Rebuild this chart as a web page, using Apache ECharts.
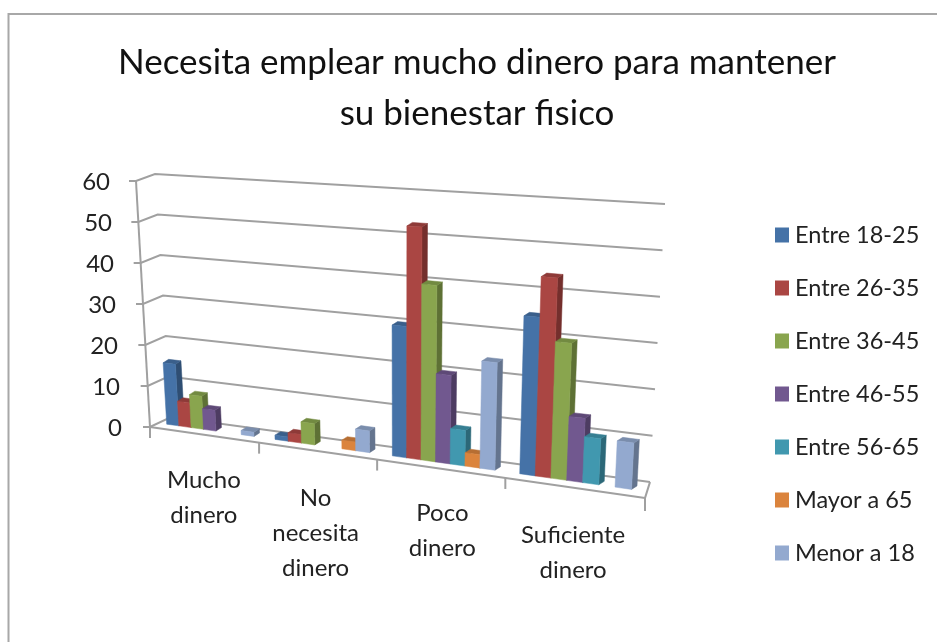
<!DOCTYPE html>
<html><head><meta charset="utf-8">
<style>html,body{margin:0;padding:0;background:#fff}#c{width:937px;height:642px}</style>
<script src="https://cdn.jsdelivr.net/npm/echarts@6/dist/echarts.min.js"></script>
</head><body><div id="c"></div>
<script>
const categories = ['Mucho\ndinero', 'No\nnecesita\ndinero', 'Poco\ndinero', 'Suficiente\ndinero'];
const yTicks = [0, 10, 20, 30, 40, 50, 60];
const seriesNames = ['Entre 18-25', 'Entre 26-35', 'Entre 36-45', 'Entre 46-55', 'Entre 56-65', 'Mayor a 65', 'Menor a 18'];
const entre18 = [15, 1, 30, 35];
const entre26 = [6, 2, 53, 44];
const entre36 = [8, 5, 40, 30];
const entre46 = [5, 0, 20, 14];
const entre56 = [0, 0, 8, 10];
const mayor65 = [0, 2, 3, 0];
const menor18 = [1, 5, 24, 10];
const seriesValues = [entre18, entre26, entre36, entre46, entre56, mayor65, menor18];
const colors = ['#4572A7', '#AA4643', '#89A54E', '#71588F', '#4198AF', '#DB843D', '#93A9CF'];
const sideColors = ['#2F4E73', '#742F2D', '#5E7135', '#4D3C62', '#2C6878', '#96592A', '#64748E'];
const topColors = ['#3A5F8B', '#8E3A38', '#728A41', '#5E4977', '#367F92', '#B66E33', '#7A8DAC'];

const FONT = 'Lato';
const GRID = {left: 150, right: 292, top: 181, bottom: 215};
// Oblique projection: pixel offsets from the flat grid at its 8 corners, [s][t][d]
const OFFSETS = {
  s0t0d0: [0, 0], s0t1d0: [-14, 0], s1t0d0: [0, 71], s1t1d0: [15, 36],
  s0t0d1: [21, -10], s0t1d1: [5, -7], s1t0d1: [5, 55], s1t1d1: [20, 23]
};
const PERSPECTIVE = 0.848, BAR_DEPTH = 0.4, BAR_GAP = 0.08, BAR_WIDTH = 0.116, SIDE_X = 5.5, SIDE_Y = -3.5;

function project(params, api, cat, frac, value, d) {
  const sys = params.coordSys;
  const p = api.coord([cat, value]);
  const band = api.size([1, 0])[0];
  const px = p[0] + (frac - 0.5) * band;
  const raw = (px - sys.x) / sys.width;
  const s = PERSPECTIVE * raw / (1 + (PERSPECTIVE - 1) * raw);
  const t = (sys.y + sys.height - p[1]) / sys.height;
  const off = i => {
    const lerp = (a, b, f) => a + (b - a) * f;
    const front = lerp(lerp(OFFSETS.s0t0d0[i], OFFSETS.s0t1d0[i], t), lerp(OFFSETS.s1t0d0[i], OFFSETS.s1t1d0[i], t), s);
    const back = lerp(lerp(OFFSETS.s0t0d1[i], OFFSETS.s0t1d1[i], t), lerp(OFFSETS.s1t0d1[i], OFFSETS.s1t1d1[i], t), s);
    return lerp(front, back, d);
  };
  return [sys.x + s * sys.width + off(0), p[1] + off(1)];
}

function barRender(idx) {
  return function (params, api) {
    const cat = api.value(0), v = api.value(1);
    if (!v) return null;
    const f0 = BAR_GAP + idx * BAR_WIDTH, f1 = f0 + BAR_WIDTH;
    const a = project(params, api, cat, f0, 0, BAR_DEPTH);
    const b = project(params, api, cat, f1, 0, BAR_DEPTH);
    const c = project(params, api, cat, f1, v, BAR_DEPTH);
    const e = project(params, api, cat, f0, v, BAR_DEPTH);
    const sh = q => [q[0] + SIDE_X, q[1] + SIDE_Y];
    const poly = (pts, fill) => ({type: 'polygon', shape: {points: pts}, style: {fill: fill, stroke: fill, lineWidth: 0.5}});
    return {type: 'group', children: [
      poly([b, c, sh(c), sh(b)], sideColors[idx]),
      poly([e, c, sh(c), sh(e)], topColors[idx]),
      poly([a, b, c, e], colors[idx])
    ]};
  };
}

function frameRender(params, api) {
  const line = (pts, w) => ({type: 'polyline', shape: {points: pts}, style: {fill: null, stroke: '#a0a0a0', lineWidth: w || 2}});
  const last = categories.length - 1;
  const children = [];
  yTicks.forEach(v => {
    const fl = project(params, api, 0, 0, v, 0);
    const bl = project(params, api, 0, 0, v, 1);
    const br = project(params, api, last, 1, v, 1);
    children.push(line([[fl[0] - 7, fl[1]], fl, bl, br]));
  });
  const top = project(params, api, 0, 0, 60, 0), bottom = project(params, api, 0, 0, 0, 0);
  children.push(line([top, bottom]));
  const fr = project(params, api, last, 1, 0, 0), brr = project(params, api, last, 1, 0, 1);
  children.push(line([bottom, fr]), line([fr, brr]));
  categories.forEach((_, i) => {
    const p = project(params, api, i, 0, 0, 0);
    children.push(line([p, [p[0], p[1] + 11]]));
  });
  children.push(line([fr, [fr[0], fr[1] + 13]]));
  return {type: 'group', children};
}

const LABEL_SPACER = [15.5, 33.5, 48.5, 70.5];
const LABEL_SHIFT = [8, 20, 17, 10];
const rich = {};
categories.forEach((_, i) => {
  rich['s' + i] = {fontSize: 1, lineHeight: LABEL_SPACER[i]};
  rich['n' + i] = {fontFamily: FONT, fontSize: 24, color: '#222', lineHeight: 35, padding: [0, LABEL_SHIFT[i] * 2, 0, 0]};
});
const yRich = {};
yTicks.forEach(v => { yRich['v' + v] = {fontFamily: FONT, fontSize: 24, color: '#222', padding: [3, 12 * v / 60, 0, 0]}; });

const series = [{
  type: 'custom', name: 'frame', silent: true, z: 1, renderItem: frameRender, data: [[0, 0]], encode: {x: 0, y: 1}
}];
seriesNames.forEach((name, i) => {
  series.push({
    type: 'custom', name, z: 2 + i, renderItem: barRender(i), itemStyle: {color: colors[i]},
    encode: {x: 0, y: 1}, data: seriesValues[i].map((v, c) => [c, v])
  });
});

const chart = echarts.init(document.getElementById('c'), null, {renderer: 'canvas'});
chart.setOption({
  animation: false,
  backgroundColor: '#fff',
  graphic: [{type: 'rect', z: 0, shape: {x: 8.5, y: 14, width: 1000, height: 1000}, style: {fill: null, stroke: '#a8a8a8', lineWidth: 2}}],
  title: {
    text: 'Necesita emplear mucho dinero para mantener\nsu bienestar fisico',
    left: 472, top: 32, textAlign: 'center',
    textStyle: {fontFamily: FONT, fontWeight: 'normal', fontSize: 35, lineHeight: 51, color: '#111'}
  },
  legend: {
    orient: 'vertical', left: 770, top: 218, icon: 'rect', itemWidth: 14, itemHeight: 15, itemGap: 29,
    selectedMode: false, data: seriesNames,
    textStyle: {fontFamily: FONT, fontSize: 23.5, color: '#222', padding: [0, 0, 0, 1]}
  },
  grid: GRID,
  xAxis: {
    type: 'category', data: categories,
    axisLine: {show: false}, axisTick: {show: false}, splitLine: {show: false},
    axisLabel: {
      interval: 0, margin: 20, hideOverlap: false, color: '#222', fontFamily: FONT, fontSize: 24, lineHeight: 35,
      formatter: (val) => {
        const i = categories.indexOf(val);
        return '{s' + i + '| }\n' + val.split('\n').map(w => '{n' + i + '|' + w + '}').join('\n');
      },
      rich
    }
  },
  yAxis: {
    type: 'value', min: 0, max: 60, interval: 10,
    axisLine: {show: false}, axisTick: {show: false}, splitLine: {show: false},
    axisLabel: {margin: 28, fontFamily: FONT, fontSize: 24, color: '#222', formatter: v => '{v' + v + '|' + v + '}', rich: yRich}
  },
  series
});
</script></body></html>
